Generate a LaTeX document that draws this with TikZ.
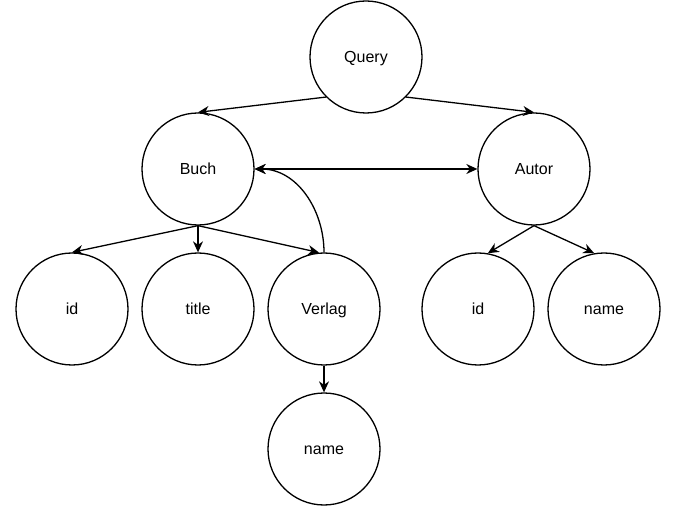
\documentclass[tikz,border=0pt]{standalone}
\usepackage{fontspec}
\setmainfont{Liberation Sans}
\usetikzlibrary{positioning, arrows.meta}

\begin{document}
\begin{tikzpicture}[x=1pt,y=1pt,node distance=140pt,on grid,line width=1.3pt,
    field/.style={circle,draw,minimum size=112pt,inner sep=0pt,text height=11.5pt,text depth=0pt,
      font=\fontsize{16}{19}\selectfont},
    >={Stealth[length=11pt,width=10pt,inset=3.5pt]}]
      \useasboundingbox (0,0) rectangle (678,-513);
      \node[field] (query) at (366,-57) {Query};
      \node[field] (buch) [below left = 112pt and 168pt of query] {Buch};
      \node[field] (autor) [below right = 112pt and 168pt of query] {Autor};
      \node[field] (b_title) [below = of buch] {title};
      \node[field] (b_id) [left = 126pt of b_title] {id};
      \node[field] (verlag) [right = 126pt of b_title] {Verlag};
      \node[field] (v_name) [below = of verlag] {name};
      \node[field] (a_id) [below left = 140pt and 56pt of autor] {id};
      \node[field] (a_name) [below right = 140pt and 70pt of autor] {name};

      \path[->] (query.south west) edge (buch.north)
            (query.south east) edge (autor.north);
      \path[<->] (buch) edge (autor);
      \path[->] (buch.south) edge (b_id.north)
            (buch.south) edge (b_title.north)
            (buch.south) edge (verlag.95);
      \path[->] (verlag.north) edge[out=90,in=0] (buch.east)
            (verlag) edge (v_name);
      \path[->] (autor.south) edge (a_id.80)
            (autor.south) edge (a_name.100);
    \end{tikzpicture}
\end{document}
